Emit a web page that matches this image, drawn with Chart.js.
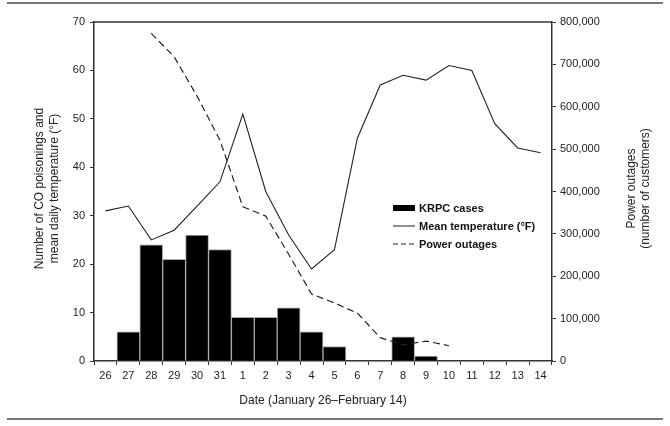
<!DOCTYPE html>
<html>
<head>
<meta charset="utf-8">
<script src="https://cdn.jsdelivr.net/npm/chart.js@4.4.1/dist/chart.umd.min.js"></script>
<style>
  html, body { margin: 0; padding: 0; background: #fff; }
  #wrap { width: 670px; height: 426px; position: relative; }
</style>
</head>
<body>
<div id="wrap"><canvas id="c" width="670" height="426"></canvas></div>
<script>
const categories = ['26','27','28','29','30','31','1','2','3','4','5','6','7','8','9','10','11','12','13','14'];
const krpcCases = [0,6,24,21,26,23,9,9,11,6,3,0,0,5,1,0,0,0,0,0];
const meanTemp = [31,32,25,27,32,37,51,35,26,19,23,46,57,59,58,61,60,49,44,43];
const powerOutages = [null,null,773000,718000,625000,521000,364000,342000,252000,158000,137000,113000,55000,38000,47000,36000,null,null,null,null];
const leftTicks = [0,10,20,30,40,50,60,70];
const rightTicks = [0,100000,200000,300000,400000,500000,600000,700000,800000];
const legendLabels = ['KRPC cases','Mean temperature (°F)','Power outages'];
const leftTitle = ['Number of CO poisonings and','mean daily temperature (°F)'];
const rightTitle = ['Power outages','(number of customers)'];
const xTitle = 'Date (January 26\u2013February 14)';

const FONT = 'Arial, "Liberation Sans", sans-serif';
const AXIS = '#333';

const decor = {
  id: 'decor',
  afterDraw(chart) {
    const ctx = chart.ctx;
    const a = chart.chartArea;
    ctx.save();
    // top border of plot
    ctx.strokeStyle = AXIS;
    ctx.lineWidth = 1.5;
    ctx.beginPath();
    ctx.moveTo(a.left, a.top);
    ctx.lineTo(a.right, a.top);
    ctx.stroke();
    // figure rules
    ctx.strokeStyle = '#777';
    ctx.lineWidth = 2;
    ctx.beginPath();
    ctx.moveTo(7, 3); ctx.lineTo(663, 3);
    ctx.moveTo(7, 419); ctx.lineTo(663, 419);
    ctx.stroke();
    // titles
    ctx.fillStyle = '#222';
    ctx.font = '12px ' + FONT;
    ctx.textAlign = 'center';
    ctx.textBaseline = 'middle';
    ctx.fillText(xTitle, (a.left + a.right) / 2, 401);
    const cy = (a.top + a.bottom) / 2 - 3;
    [[40, leftTitle[0]], [55, leftTitle[1]]].forEach(([x, t]) => {
      ctx.save(); ctx.translate(x, cy); ctx.rotate(-Math.PI / 2);
      ctx.fillText(t, 0, 0); ctx.restore();
    });
    [[632, rightTitle[0]], [646, rightTitle[1]]].forEach(([x, t]) => {
      ctx.save(); ctx.translate(x, cy); ctx.rotate(-Math.PI / 2);
      ctx.fillText(t, 0, 0); ctx.restore();
    });
    // legend
    const lx = 393, lw = 22, tx = 419;
    const rows = [208, 226, 244];
    ctx.fillStyle = '#000';
    ctx.fillRect(lx, rows[0] - 3, lw, 6);
    ctx.strokeStyle = '#222';
    ctx.lineWidth = 1;
    ctx.beginPath(); ctx.moveTo(lx, rows[1]); ctx.lineTo(lx + lw, rows[1]); ctx.stroke();
    ctx.setLineDash([5, 3]);
    ctx.beginPath(); ctx.moveTo(lx, rows[2]); ctx.lineTo(lx + lw, rows[2]); ctx.stroke();
    ctx.setLineDash([]);
    ctx.font = 'bold 11px ' + FONT;
    ctx.textAlign = 'left';
    ctx.fillStyle = '#111';
    legendLabels.forEach((t, i) => ctx.fillText(t, tx, rows[i] + 0.5));
    ctx.restore();
  }
};

new Chart(document.getElementById('c'), {
  data: {
    labels: categories,
    datasets: [
      {
        type: 'line', label: legendLabels[1], data: meanTemp, yAxisID: 'y',
        borderColor: '#222', borderWidth: 1.1, pointRadius: 0, tension: 0, order: 1
      },
      {
        type: 'line', label: legendLabels[2], data: powerOutages, yAxisID: 'y2',
        borderColor: '#222', borderWidth: 1.2, borderDash: [7, 4], pointRadius: 0, tension: 0,
        spanGaps: false, order: 2
      },
      {
        type: 'bar', label: legendLabels[0], data: krpcCases, yAxisID: 'y',
        backgroundColor: '#000', borderColor: '#aaa', borderWidth: 1,
        barPercentage: 1, categoryPercentage: 1, order: 3
      }
    ]
  },
  options: {
    responsive: false,
    animation: false,
    layout: { padding: { top: 22, left: 0, right: 0, bottom: 0 } },
    plugins: { legend: { display: false }, tooltip: { enabled: false } },
    scales: {
      x: {
        offset: true,
        grid: { display: true, drawOnChartArea: false, offset: true, tickLength: 4, color: AXIS, lineWidth: 1 },
        border: { display: true, color: AXIS, width: 1.5 },
        ticks: { color: '#222', font: { size: 11, family: FONT }, padding: 4, maxRotation: 0, autoSkip: false },
        afterFit(s) { s.height = 426 - 361; }
      },
      y: {
        position: 'left', min: 0, max: 70,
        afterBuildTicks(s) { s.ticks = leftTicks.map(v => ({ value: v })); },
        grid: { display: true, drawOnChartArea: false, tickLength: 4, color: AXIS },
        border: { display: true, color: AXIS, width: 1.5 },
        ticks: { color: '#222', font: { size: 11, family: FONT }, padding: 5 },
        afterFit(s) { s.width = 94; }
      },
      y2: {
        position: 'right', min: 0, max: 800000,
        afterBuildTicks(s) { s.ticks = rightTicks.map(v => ({ value: v })); },
        grid: { display: true, drawOnChartArea: false, tickLength: 4, color: AXIS },
        border: { display: true, color: AXIS, width: 1.5 },
        ticks: { color: '#222', font: { size: 11, family: FONT }, padding: 4,
          callback: v => v.toLocaleString('en-US') },
        afterFit(s) { s.width = 670 - 552; }
      }
    }
  },
  plugins: [decor]
});
</script>
</body>
</html>
